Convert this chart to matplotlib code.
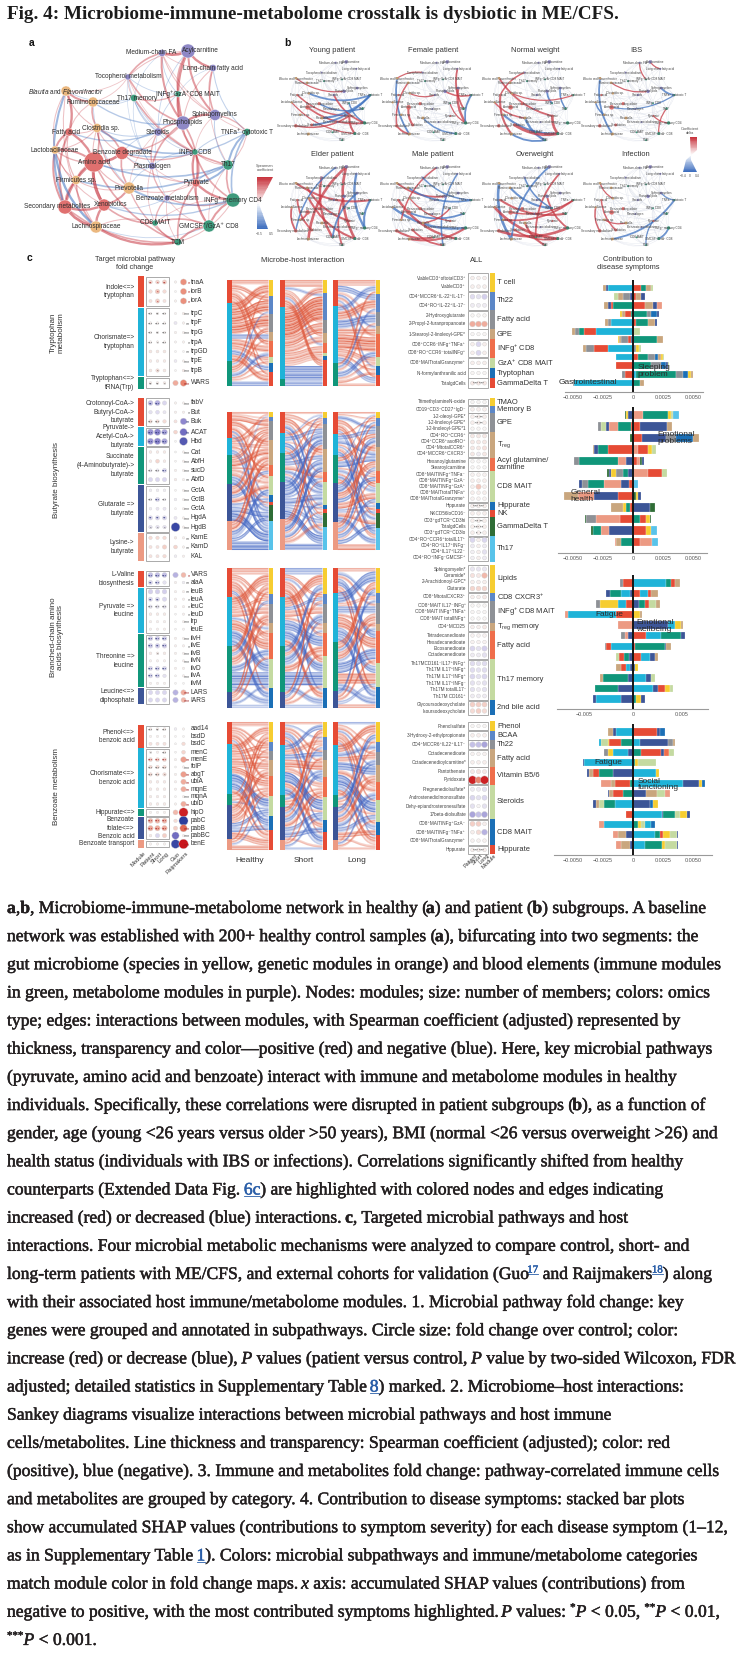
import re
import numpy as np
import matplotlib
matplotlib.use('Agg')
import matplotlib.pyplot as plt
import matplotlib.patheffects as pe
from matplotlib.path import Path
from matplotlib.patches import PathPatch, Rectangle, Polygon, FancyArrowPatch
from matplotlib.colors import LinearSegmentedColormap

plt.rcParams['font.family'] = ['Liberation Sans', 'DejaVu Sans']
plt.rcParams['mathtext.fontset'] = 'custom'
plt.rcParams['mathtext.rm'] = 'Liberation Sans'
plt.rcParams['mathtext.it'] = 'Liberation Sans:italic'
plt.rcParams['mathtext.bf'] = 'Liberation Sans:bold'

# ======================= DATA =======================
TITLE = "Fig. 4: Microbiome-immune-metabolome crosstalk is dysbiotic in ME/CFS."

NET_NODES = ['Medium-chain FA', 'Acylcarnitine', 'Long-chain fatty acid', 'Tocopherol metabolism',
             'INFg⁺GzA⁺CD8 MAIT', r'$\it{Blautia}$ and $\it{Flavonifractor}$', 'Ruminococcaceae',
             'Th17 memory', 'Sphingomyelins', 'Phospholipids', 'Fatty acid', 'Clostridia sp.', 'Steroids',
             'TNFa⁺ cytotoxic T', 'Lactobacillaceae', 'Benzoate degradate', 'INFg⁺ CD8', 'Amino acid',
             'Plasmalogen', 'Th17', 'Firmicutes sp.', 'Prevotella', 'Pyruvate', 'Benzoate metabolism',
             'INFg⁺ memory CD4', 'Secondary metabolites', 'Xenobiotics', 'CD8 MAIT', 'GMCSF⁺/GzA⁺ CD8',
             'Lachnospiraceae', 'TCM']
NET_TYPES = ['met', 'met', 'met', 'met', 'imm', 'sp', 'sp', 'imm', 'met', 'met', 'gen', 'sp', 'met', 'imm',
             'sp', 'gen', 'imm', 'gen', 'met', 'imm', 'sp', 'sp', 'gen', 'met', 'imm', 'gen', 'gen', 'imm',
             'imm', 'sp', 'imm']
NET_MEMBERS = [8, 22, 8, 6, 6, 14, 14, 8, 16, 22, 10, 12, 10, 8, 10, 20, 6, 34, 8, 14, 12, 18, 10, 6, 22,
               22, 18, 6, 18, 18, 8]
NET_EDGES = [
    (17, 26, .8), (17, 25, .6), (17, 15, .7), (17, 10, .6), (17, 20, .5), (17, 14, .5), (17, 11, .4),
    (10, 14, .5), (10, 5, .6), (10, 25, .5), (25, 29, .7), (26, 29, .6), (26, 21, .5), (20, 25, .5),
    (15, 21, .4), (15, 11, .4), (5, 6, .5), (6, 11, .4), (11, 21, .3), (20, 29, .4), (14, 25, .5),
    (22, 24, .6), (22, 16, .5), (22, 28, .5), (22, 9, .4), (15, 16, .3), (15, 9, .3), (17, 30, .4),
    (26, 27, .4), (29, 30, .6), (25, 30, .4), (21, 30, .3), (22, 30, .4), (14, 29, -.6), (5, 25, -.5),
    (11, 16, -.4), (20, 19, -.4), (21, 24, -.4), (10, 12, -.3), (6, 9, -.3), (17, 19, -.4), (26, 24, -.3),
    (15, 13, -.3), (22, 19, -.5), (13, 19, -.5), (13, 24, -.4), (0, 1, .7), (1, 2, .6), (0, 3, .4),
    (1, 9, .6), (1, 8, .5), (2, 8, .4), (8, 9, .6), (9, 12, .4), (9, 18, .4), (12, 18, .3), (3, 9, .4),
    (0, 9, .5), (1, 4, .4), (4, 16, .5), (16, 22, .5), (7, 4, .3), (7, 19, .4), (16, 24, .4), (19, 24, .4),
    (24, 28, .5), (28, 27, .4), (27, 30, .3), (28, 30, .5), (13, 8, .3), (23, 24, .3), (23, 27, .3),
    (18, 23, .3), (25, 26, .6),
    (0, 2, .15), (0, 4, -.15), (0, 8, .2), (1, 3, .2), (1, 12, -.15), (2, 9, .2), (2, 13, -.2), (3, 4, -.15),
    (3, 7, .15), (3, 12, -.15), (4, 9, .2), (4, 12, -.15), (5, 7, -.15), (5, 11, .2), (5, 3, .15),
    (6, 7, -.15), (6, 3, .15), (7, 12, -.2), (7, 16, -.15), (8, 16, .15), (8, 19, -.2), (9, 16, .2),
    (11, 12, -.2), (11, 15, .2), (12, 15, -.15), (12, 16, -.15), (14, 11, .2), (14, 20, .2), (15, 18, -.15),
    (15, 22, .2), (16, 18, -.15), (16, 19, .2), (18, 21, -.15), (18, 22, .15), (19, 22, -.2), (20, 21, .2),
    (21, 23, -.15), (21, 22, .2), (22, 23, .15), (23, 28, .15), (24, 27, .15), (26, 23, -.15), (27, 29, .2),
    (29, 28, -.15), (30, 24, .2), (10, 11, .2), (6, 10, .2), (13, 16, -.2), (17, 18, -.2), (17, 21, .25),
    (14, 17, .3), (5, 14, .2), (10, 20, .25), (0, 7, -.1), (2, 4, -.1), (12, 23, -.1), (3, 18, -.1),
    (19, 28, .15), (0, 13, .15), (2, 19, .15), (5, 29, .2), (14, 26, .2), (6, 21, -.15), (11, 26, .2),
    (3, 16, .12), (7, 18, -.12), (12, 21, .12), (18, 27, .15), (23, 30, .15), (16, 28, .2), (19, 13, .2)]

B_NAMES = ['Young patient', 'Female patient', 'Normal weight', 'IBS',
           'Elder patient', 'Male patient', 'Overweight', 'Infection']
B_DELTAS = [
    [(17, 24, .5), (10, 22, .4), (5, 9, .3), (11, 13, -.5), (21, 13, -.6), (14, 28, .3), (16, 24, -.4),
     (26, 13, -.5), (25, 22, .4), (12, 24, .5), (22, 28, .6), (15, 19, -.4)],
    [(5, 29, -.5), (6, 25, .4), (8, 24, .7), (2, 19, .5), (17, 26, .6), (25, 29, .5), (9, 13, .4),
     (3, 5, .3), (11, 12, .3), (21, 28, -.4), (16, 24, .3), (13, 24, -.5)],
    [(5, 22, .5), (10, 29, .6), (14, 21, .4), (20, 28, -.6), (21, 30, -.7), (26, 28, .9), (29, 30, -.5),
     (22, 28, .8), (9, 16, -.5), (3, 10, .4), (8, 19, -.4), (11, 13, .3)],
    [(5, 29, -.5), (14, 20, -.4), (1, 2, .3), (6, 9, .3), (8, 13, -.5), (19, 28, .3), (0, 4, .3),
     (22, 24, .3), (17, 13, -.3)],
    [(1, 29, .8), (1, 28, .8), (2, 24, -.7), (5, 13, .6), (3, 27, .7), (9, 30, .5), (14, 25, .5),
     (6, 22, .6), (10, 26, .5), (0, 25, -.4), (13, 24, -.6), (11, 28, .6), (20, 17, .5), (8, 27, -.5)],
    [(14, 24, -.7), (10, 28, .7), (25, 27, .6), (5, 9, .5), (6, 13, -.5), (2, 30, -.4), (29, 24, .6),
     (17, 19, -.5), (21, 16, .4), (0, 20, .4), (11, 22, .3), (3, 13, -.4), (26, 30, .5)],
    [(5, 29, -.8), (14, 28, .8), (25, 24, .8), (10, 19, .6), (6, 16, -.6), (1, 29, -.5), (2, 27, .5),
     (20, 13, .5), (9, 24, .5), (21, 30, .6), (3, 16, -.4), (17, 13, .4), (26, 28, .5)],
    [(14, 25, .4), (10, 26, .4), (29, 13, -.5), (5, 11, .3), (28, 24, -.5), (20, 21, .3), (22, 30, -.3),
     (8, 13, -.3)]]

# ---- panel c: microbial genes: (gene, (Patient, Short, Long, Guo, Raijmakers), (stars P, S, L, Raij))
TRP_SUB = [('Indole<=>\ntryptophan', 3), ('Chorismate=>\ntryptophan', 7), ('Tryptophan<=>\ntRNA(Trp)', 1)]
TRP_GENES = [
    ('tnaA', (0.25, 0.25, 0.3, 0.05, 0.55), (2, 1, 2, 1)),
    ('iorB', (0.2, 0.35, 0.2, 0.0, 0.55), (0, 1, 0, 1)),
    ('iorA', (0.15, 0.3, 0.15, 0.05, 0.55), (0, 1, 0, 1)),
    ('trpC', (0.06, 0.06, 0.06, 0.03, 0.08), (3, 2, 3, 3)),
    ('trpF', (0.06, 0.06, 0.06, -0.15, 0.06), (3, 3, 3, 2)),
    ('trpG', (0.06, 0.06, 0.06, 0.05, 0.05), (3, 2, 3, 3)),
    ('trpA', (0.06, 0.06, 0.06, 0.03, 0.05), (3, 1, 3, 1)),
    ('trpGD', (0.12, 0.12, 0.12, 0.0, 0.0), (0, 0, 0, 2)),
    ('trpE', (0.1, 0.1, 0.1, -0.12, 0.05), (0, 0, 0, 3)),
    ('trpB', (0.12, 0.2, 0.12, 0.0, 0.1), (0, 1, 0, 3)),
    ('WARS', (0.1, 0.1, 0.1, 0.45, 0.6), (2, 2, 1, 3))]
BUT_SUB = [('Crotonoyl-CoA->\nButyryl-CoA->\nbutyrate', 3), ('Pyruvate->\nAcetyl-CoA->\nbutyrate', 2),
           ('Succinate\n(4-Aminobutyrate)->\nbutyrate', 4), ('Glutarate =>\nbutyrate', 5), ('Lysine->\nbutyrate', 3)]
BUT_GENES = [
    ('fabV', (-0.4, -0.45, -0.3, 0.05, 0.05), (2, 3, 0, 3)),
    ('But', (-0.2, -0.25, -0.15, 0.05, 0.05), (0, 0, 0, 1)),
    ('Buk', (0.2, 0.2, 0.2, 0.15, -0.6), (3, 3, 0, 2)),
    ('ACAT', (-0.55, -0.6, -0.5, 0.25, -0.7), (3, 3, 3, 2)),
    ('Hbd', (-0.55, -0.6, -0.5, 0.0, -0.8), (3, 3, 3, 0)),
    ('Cat', (0.1, 0.1, 0.1, 0.0, 0.05), (0, 0, 0, 3)),
    ('AbfH', (0.1, 0.25, 0.1, 0.0, 0.05), (0, 0, 0, 3)),
    ('sucD', (-0.15, -0.15, -0.3, 0.05, 0.05), (3, 3, 3, 3)),
    ('AbfD', (-0.3, -0.3, -0.3, 0.08, 0.05), (0, 0, 0, 2)),
    ('GctA', (-0.1, -0.1, -0.1, 0.0, 0.05), (0, 0, 0, 3)),
    ('GctB', (-0.1, -0.3, -0.1, -0.1, 0.05), (3, 3, 3, 3)),
    ('GctA', (-0.1, -0.15, -0.15, 0.0, 0.05), (0, 0, 0, 3)),
    ('HgdA', (-0.3, -0.3, -0.3, -0.15, 0.05), (2, 2, 2, 3)),
    ('HgdB', (-0.2, -0.2, -0.2, -0.9, 0.05), (1, 1, 1, 3)),
    ('KamE', (0.2, 0.2, 0.2, 0.08, 0.05), (0, 0, 0, 2)),
    ('KamD', (0.15, 0.15, 0.3, 0.25, 0.05), (0, 0, 0, 2)),
    ('KAL', (0.15, 0.15, 0.2, -0.1, 0.05), (0, 0, 0, 0))]
BCA_SUB = [('L-Valine\nbiosynthesis', 2), ('Pyruvate =>\nleucine', 6), ('Threonine =>\nleucine', 7),
           ('Leucine<=>\ndiphosphate', 2)]
BCA_GENES = [
    ('VARS', (-0.4, -0.4, -0.4, -0.45, 0.4), (3, 3, 3, 1)),
    ('alaA', (-0.3, -0.3, -0.2, 0.05, -0.1), (2, 3, 0, 2)),
    ('leuB', (-0.35, -0.35, -0.35, 0.05, 0.05), (0, 0, 0, 2)),
    ('leuA', (-0.3, -0.3, -0.3, 0.05, 0.05), (2, 2, 0, 1)),
    ('leuC', (-0.2, -0.2, -0.2, 0.05, 0.05), (3, 3, 3, 1)),
    ('leuD', (0.1, 0.1, 0.1, 0.0, 0.05), (0, 0, 0, 1)),
    ('lrp', (0.06, 0.06, 0.06, 0.0, 0.05), (0, 0, 0, 3)),
    ('leuE', (0.05, 0.05, 0.05, 0.0, 0.03), (0, 0, 0, 0)),
    ('ilvH', (-0.35, -0.35, -0.35, 0.05, 0.05), (3, 3, 3, 3)),
    ('ilvE', (-0.35, -0.35, -0.35, 0.05, 0.05), (3, 2, 3, 1)),
    ('ilvB', (0.1, 0.1, 0.1, 0.05, 0.05), (0, 1, 0, 3)),
    ('ilvN', (0.05, 0.05, 0.05, 0.0, 0.05), (0, 0, 0, 3)),
    ('ilvD', (-0.3, -0.3, -0.3, 0.05, 0.05), (3, 3, 3, 0)),
    ('ilvA', (-0.3, -0.3, -0.2, 0.0, 0.05), (3, 3, 0, 3)),
    ('ilvM', (0.05, 0.05, 0.05, 0.0, 0.0), (0, 0, 0, 0)),
    ('LARS', (-0.3, -0.3, -0.3, -0.45, 0.45), (0, 0, 0, 3)),
    ('IARS', (-0.3, -0.3, -0.3, -0.45, 0.4), (0, 0, 0, 3))]
BEN_SUB = [('Phenol<=>\nbenzoic acid', 3), ('Chorismate<=>\nbenzoic acid', 8), ('Hippurate<=>', 1),
           ('Benzoate\nfolate<=>\nBenzoic acid', 3), ('Benzoate transport', 1)]
BEN_GENES = [
    ('aad14', (0.1, 0.1, 0.1, -0.1, 0.05), (3, 2, 3, 0)),
    ('bsdD', (0.05, 0.05, 0.05, 0.0, 0.0), (0, 0, 0, 0)),
    ('bsdC', (0.15, 0.15, 0.15, 0.0, 0.2), (0, 0, 0, 0)),
    ('menC', (0.05, 0.05, 0.1, 0.0, 0.25), (1, 0, 3, 0)),
    ('menE', (0.25, 0.25, 0.25, 0.05, 0.5), (3, 3, 3, 2)),
    ('folP', (0.2, 0.2, 0.2, 0.0, 0.05), (3, 3, 3, 3)),
    ('abgT', (0.2, 0.2, 0.2, 0.05, 0.5), (3, 3, 1, 2)),
    ('ubiA', (0.1, 0.1, 0.1, 0.05, 0.45), (0, 0, 0, 2)),
    ('mqnE', (0.1, 0.1, 0.1, 0.05, 0.45), (0, 0, 0, 2)),
    ('mqnA', (0.08, 0.08, 0.08, 0.0, 0.05), (0, 0, 0, 3)),
    ('ubiD', (0.1, 0.1, 0.1, 0.05, 0.45), (0, 0, 0, 2)),
    ('hipO', (0.05, 0.05, 0.05, 0.4, 0.95), (0, 0, 0, 0)),
    ('pabC', (0.4, 0.4, 0.4, 0.2, -0.95), (3, 3, 3, 0)),
    ('pabB', (0.45, 0.45, 0.45, 0.3, 0.7), (3, 3, 3, 3)),
    ('pabBC', (0.1, -0.3, 0.3, -0.7, 0.05), (0, 0, 0, 3)),
    ('benE', (0.05, 0.05, 0.05, -0.9, 1.0), (0, 0, 0, 3))]

# ---- host modules: (label, category index, (Patient, Short, Long), stars)
TRP_CATS = ['T cell', 'Th22', 'Fatty acid', 'GPE', 'INFg$^{+}$ CD8', 'GzA$^{+}$ CD8 MAIT', 'Tryptophan',
            'GammaDelta T']
TRP_HOST = [
    ('ViableCD3⁺oftotalCD3⁺', 0, (0.05, 0.05, 0.05), ''), ('ViableCD3⁺', 0, (0.05, 0.05, 0.05), ''),
    ('CD4⁺MCCR6⁺IL-22⁺IL-17⁻', 1, (-0.25, -0.2, -0.35), ''), ('CD4⁺RO⁺IL-22⁺IL-17⁻', 1, (-0.1, -0.1, -0.1), ''),
    ('2-Hydroxyglutarate', 2, (0.0, 0.0, 0.0), ''), ('2-Propyl-2-furanpropanoate', 2, (0.45, 0.45, 0.45), ''),
    ('1-Stearoyl-2-linoleoyl-GPE*', 3, (0.0, 0.0, 0.0), ''),
    ('CD8⁺CCR6⁻INFg⁺TNFa⁺', 4, (0.05, -0.3, 0.05), ''), ('CD8⁺RO⁺CCR6⁻totalINFg⁺', 4, (0.05, -0.3, 0.05), ''),
    ('CD8⁺MAITtotalGranzyme⁺', 5, (0.05, 0.05, 0.05), ''), ('N-formylanthranilic acid', 6, (0.0, 0.0, 0.0), ''),
    ('TotalgdCells', 7, (0.1, 0.1, 0.1), '*** ***')]
BUT_CATS = ['TMAO', 'Memory B', 'GPE', 'T$_{\\rm reg}$', 'Acyl glutamine/\ncarnitine', 'CD8 MAIT', 'Hippurate',
            'NK', 'GammaDelta T', 'Th17']
BUT_HOST = [
    ('TrimethylamineN-oxide', 0, (0.0, 0.0, 0.0), ''), ('CD19⁺CD3⁻CD27⁺IgD⁻', 1, (0.05, 0.05, 0.05), ''),
    ('1-2-oleoyl-GPE*', 2, (0.05, 0.05, 0.05), '** **'), ('1-2-linoleoyl-GPE*', 2, (0.05, 0.05, 0.05), '** **'),
    ('1-2-linoleoyl-GPE*1', 2, (0.0, 0.0, 0.0), ''),
    ('CD4⁺RO⁺CCR6⁺', 3, (0.1, 0.1, 0.1), ''), ('CD4⁺CCR6⁺asofRO⁺', 3, (0.1, 0.1, 0.1), ''),
    ('CD4⁺MtotalCCR6⁺', 3, (0.1, 0.1, 0.15), ''), ('CD4⁺MCCR6⁺CXCR3⁺', 3, (0.1, -0.1, 0.1), ''),
    ('Hexanoylglutamine', 4, (0.0, 0.0, 0.0), ''), ('Stearoylcarnitine', 4, (0.0, 0.0, 0.0), ''),
    ('CD8⁺MAITINFg⁺TNFa⁻', 5, (0.03, 0.03, 0.03), ''), ('CD8⁺MAITINFg⁺GzA⁻', 5, (0.05, 0.05, 0.05), ''),
    ('CD8⁺MAITINFg⁺GzA⁺', 5, (0.05, 0.35, 0.05), ''), ('CD8⁺MAITtotalTNFa⁺', 5, (0.05, 0.05, 0.05), ''),
    ('CD8⁺MAITtotalGranzyme⁺', 5, (0.03, 0.03, 0.03), ''), ('Hippurate', 6, (0.05, 0.05, 0.05), '*** ***'),
    ('NKCD56loCD16⁻', 7, (0.05, 0.05, 0.05), ''),
    ('CD3⁺gdTCR⁺CD3hi', 8, (0.05, 0.05, 0.05), '** **'), ('TotalgdCells', 8, (0.05, 0.05, 0.05), '*** **'),
    ('CD3⁺gdTCR⁺CD3lo', 8, (0.05, 0.05, 0.05), '*  *'),
    ('CD4⁺RO⁺CCR6⁺totalIL17⁺', 9, (-0.3, 0.05, -0.3), ''), ('CD4⁺RO⁺IL17⁺INFg⁻', 9, (-0.1, 0.05, -0.1), ''),
    ('CD4⁺IL17⁺IL22⁻', 9, (-0.05, 0.05, -0.2), ''), ('CD4⁺RO⁺INFg⁻GMCSF⁺', 9, (-0.05, 0.05, -0.1), '')]
BCA_CATS = ['Lipids', 'CD8 CXCR3$^{+}$', 'INFg$^{+}$ CD8 MAIT', 'T$_{\\rm reg}$ memory', 'Fatty acid',
            'Th17 memory', '2nd bile acid']
BCA_HOST = [
    ('Sphingomyelin*', 0, (-0.15, -0.15, -0.15), ''), ('Ceramide*', 0, (0.15, 0.1, 0.4), ''),
    ('2-Arachidonoyl-GPC*', 0, (0.05, 0.05, 0.05), ''), ('Glutarate', 0, (0.25, 0.25, 0.25), ''),
    ('CD8⁺MtotalCXCR3⁺', 1, (0.05, 0.05, 0.1), ''),
    ('CD8⁺MAIT IL17⁻INFg⁺', 2, (0.0, 0.0, 0.0), ''), ('CD8⁺MAIT INFg⁺TNFa⁺', 2, (0.0, 0.0, 0.0), ''),
    ('CD8⁺MAIT totalINFg⁺', 2, (0.0, 0.0, 0.0), ''), ('CD4⁺MCD25', 3, (0.05, 0.05, 0.1), ''),
    ('Tetradecanedioate', 4, (0.03, 0.03, 0.03), ''), ('Hexadecanedioate', 4, (0.03, 0.03, 0.03), ''),
    ('Eicosanedioate', 4, (-0.3, -0.2, -0.35), ''), ('Octadecenedioate', 4, (-0.1, -0.1, -0.2), ''),
    ('Th17MCD161⁻IL17⁺INFg⁺', 5, (-0.25, -0.2, -0.25), ''), ('Th17M IL17⁺INFg⁺', 5, (-0.25, -0.2, -0.25), ''),
    ('Th17M IL17⁺INFg⁺', 5, (-0.3, -0.2, -0.3), ''), ('Th17M IL17⁺INFg⁻', 5, (-0.2, -0.1, -0.2), ''),
    ('Th17M totalIL17⁻', 5, (-0.2, -0.1, -0.2), ''), ('Th17M CD161⁺', 5, (-0.1, -0.1, -0.1), ''),
    ('Glycoursodeoxycholate', 6, (0.3, 0.3, 0.3), ''), ('Isoursodeoxycholate', 6, (0.2, 0.3, 0.2), '')]
BEN_CATS = ['Phenol', 'BCAA', 'Th22', 'Fatty acid', 'Vitamin B5/6', 'Steroids', 'CD8 MAIT', 'Hippurate']
BEN_HOST = [
    ('Phenolsulfate', 0, (0.0, 0.0, 0.0), ''), ('3-Hydroxy-2-ethylpropionate', 1, (0.05, 0.05, 0.05), ''),
    ('CD4⁺MCCR6⁺IL22⁺IL17⁻', 2, (-0.4, -0.4, -0.5), ''),
    ('Octadecenedioate', 3, (0.03, 0.03, 0.03), ''), ('Octadecenedioylcarnitine*', 3, (0.05, 0.05, 0.05), ''),
    ('Pantothenate', 4, (0.1, 0.15, 0.1), ''), ('Pyridoxate', 4, (0.95, 0.6, 0.95), ''),
    ('Pregnenediolsulfate*', 5, (-0.1, -0.1, -0.2), ''), ('Androstenediolmonosulfate', 5, (-0.3, -0.2, -0.3), ''),
    ('Dehy-epiandrosteronesulfate', 5, (-0.2, 0.0, -0.2), ''), ('17beta-diolsulfate', 5, (-0.5, -0.4, -0.5), ''),
    ('CD8⁺MAITINFg⁺GzA⁻', 6, (0.3, 0.3, 0.05), ''), ('CD8⁺MAITINFg⁻TNFa⁺', 6, (0.05, 0.2, -0.45), ''),
    ('CD8⁺MAITtotalGranzyme⁺', 6, (0.03, 0.03, 0.03), ''), ('Hippurate', 7, (0.05, 0.05, 0.05), '*** ***')]

# ---- Sankey link weights (rows: microbial subpathways, cols: host categories), sign = direction
SK_TRP = {'Healthy': [[2, 2, 1, 1, 2, 0, 1, 1], [4, 5, 5, -2, 3, 2, -2, 3], [1, -1, 2, 1, -2, 1, 1, -2]],
          'Short': [[2, -1, 1, 1, -1, 0, 0, 2], [2, 7, 3, 2, 2, 1, 1, -4], [0, 0, 0, 0, 0, 0, 0, -2]],
          'Long': [[2, -2, 1, -1, 1, 0, -1, 1], [-2, 3, -3, 2, 5, 2, 1, -2], [1, -1, 1, 0, -2, 1, 1, 1]]}
SK_BUT = {'Healthy': [[1, 1, 3, 3, 1, 2, -1, 0, 1, -2], [0, 1, 2, 2, 1, 1, 0, 0, -1, -2],
                      [1, 0, 2, 4, 1, 2, 1, 1, -2, -3], [-1, 0, 2, 3, -2, 3, -1, -1, -3, -5],
                      [0, 0, 2, 3, 1, -3, -1, 0, -2, -5]],
          'Short': [[1, 0, 2, 2, 1, -2, 0, 0, 1, -1], [-1, 1, -2, 1, 0, -2, 1, 0, -1, 1],
                    [0, 1, -3, -2, 2, -2, 0, 1, -1, -2], [-1, 0, -3, -3, -1, -3, -1, 0, -2, -4],
                    [0, 1, 2, -3, 1, -2, 0, 1, 2, -3]],
          'Long': [[1, 1, -2, 2, 1, 2, 0, 0, -1, -1], [0, 1, -2, -2, 1, -1, 1, 0, 1, -2],
                   [-1, 0, 2, -3, 1, -2, 0, 1, -2, 2], [1, -1, -3, 3, -2, 3, -1, -1, 2, -3],
                   [0, 1, 2, -2, 1, -2, 1, 0, -2, 3]]}
SK_BCA = {'Healthy': [[2, 1, 1, 1, 2, -1, 1], [3, 1, 2, -1, 3, -3, -2], [2, -1, 2, 1, -2, -4, -2], [1, 0, 1, 0, 1, -1, -1]],
          'Short': [[-2, 1, -1, 1, 1, 2, -1], [3, -1, 2, 1, -3, -3, 2], [-2, 1, -2, -1, 2, -4, -2], [1, 0, -1, 0, 1, 1, -1]],
          'Long': [[1, -1, 1, 0, -2, 1, 1], [-3, 1, -2, 1, 3, -2, -2], [2, -1, 2, -1, -3, 3, -2], [-1, 0, 1, 0, 1, -1, 1]]}
SK_BEN = {'Healthy': [[2, 1, 1, 1, 2, 1, -1, 1], [3, 2, 2, 3, 3, -4, -3, 2], [1, 0, 0, 1, 1, -1, 0, 1],
                      [2, 1, 1, 2, 2, -2, -2, 3], [1, 0, 0, 0, 1, -1, 0, 2]],
          'Short': [[1, -1, 1, 1, -2, 1, -1, 1], [-2, 2, -2, 3, 2, -4, 2, -3], [0, 1, 0, -1, 1, 1, 0, -1],
                    [2, -1, 1, -2, 2, -2, -2, 1], [1, 0, 0, 0, 1, -1, 0, -1]],
          'Long': [[-1, 1, 1, -1, 2, 1, 1, -1], [3, -2, 2, -3, 2, -4, -2, 2], [1, 0, -1, 1, 0, 1, 0, 1],
                   [-2, 1, -1, 2, -2, -2, 2, 1], [1, 0, 0, 0, -1, 1, 0, 1]]}

# ---- SHAP contributions (x 1e-4) per symptom bar: segments from 0 outward
TRP_NEG = [[('cyan', 21), ('navy', 1.4), ('tan', 2.2)], [('navy', 2.2), ('gray', 6.2), ('tan', 4.2), ('lgreen', 3.4)],
           [('green', 16.8), ('red', 1.4), ('navy', 2.8), ('tan', 2.8)], [('green', 1.4), ('red', 5.6), ('tan', 2.2), ('yellow', 1.4)],
           [('cyan', 18.2), ('gray', 2.8), ('tan', 2.0)], [('cyan', 30.8), ('red', 9.8), ('green', 4.2), ('gray', 3.4), ('tan', 2.8)],
           [('navy', 1.4), ('red', 2.8), ('gray', 5.6), ('tan', 2.2), ('yellow', 0.8)], [('cyan', 21), ('red', 11.2), ('gray', 7), ('tan', 2.8)],
           [('cyan', 14)], [('red', 14)], [('red', 7), ('gray', 2.2)], [('cyan', 49), ('gray', 1.4)]]
TRP_POS = [[('red', 7), ('green', 4.2), ('tan', 4.2), ('lgreen', 1.4)], [('red', 2.8), ('tan', 4.2), ('navy', 2.8)],
           [('red', 10), ('tan', 7), ('navy', 3), ('salmon', 4)], [('green', 12), ('gray', 3), ('blue', 5), ('navy', 1.5)],
           [('red', 2.8), ('green', 9.8), ('tan', 5.6), ('navy', 1.4)], [('lgreen', 5.6)],
           [('green', 19.6), ('tan', 5)], [('gray', 2.2), ('yellow', 2.8), ('lgreen', 1.4)],
           [('red', 4.2), ('green', 8.4), ('gray', 5.6), ('blue', 2.8), ('tan', 2.2), ('yellow', 1.4), ('lgreen', 1.4)],
           [('green', 15), ('gray', 8.4), ('blue', 4.2), ('navy', 1.4), ('lgreen', 1.4)],
           [('cyan', 2.8), ('green', 33), ('gray', 5.6), ('blue', 4.2), ('yellow', 2.8), ('tan', 1.4)],
           [('green', 5.6), ('tan', 3.4)]]
BUT_NEG = [[('navy', 4.2), ('yellow', 1.4), ('dgreen', 1.4)],
           [('red', 1.4), ('green', 11.2), ('salmon', 7), ('navy', 2.8), ('lgreen', 4.2), ('gray', 2.8)],
           [('dgreen', 2.2)], [('red', 21), ('green', 8.4), ('navy', 2.8), ('tan', 1.4)],
           [('navy', 5.6), ('salmon', 7), ('green', 32.2), ('gray', 4.2)],
           [('navy', 4), ('green', 4), ('gray', 6), ('yellow', 4), ('navy', 2.4), ('dgreen', 1.4)],
           [('red', 3.4), ('navy', 6.4), ('salmon', 14), ('green', 14), ('gray', 4.8), ('navy', 2.8)],
           [('red', 12.6), ('navy', 19.6), ('salmon', 14), ('tan', 11.2)],
           [('red', 2.8), ('green', 2.8), ('yellow', 2.8), ('tan', 9.6)],
           [('red', 11.2), ('salmon', 19.4), ('gray', 8.4), ('dgreen', 1.4)],
           [('navy', 19.6), ('salmon', 7), ('green', 7), ('dgreen', 1.4)], [('green', 9.8), ('tan', 4.2), ('salmon', 1.4)]]
BUT_POS = [[('salmon', 8.4), ('green', 21), ('yellow', 2.2), ('lgreen', 1.4), ('lblue', 5.6)],
           [('red', 5.6), ('navy', 22.4), ('tan', 4.2)],
           [('red', 7.6), ('navy', 19.6), ('gray', 8.4), ('blue', 14), ('tan', 5.6)],
           [('salmon', 4.2), ('red', 8.4), ('yellow', 3.4), ('lgreen', 2.8)],
           [('red', 3.4), ('salmon', 2.2), ('dgreen', 2.2), ('navy', 1.4)], [('salmon', 12.6), ('red', 11.2), ('lgreen', 4.2)],
           [('lblue', 4.2)], [('dgreen', 2.8), ('yellow', 1.4), ('navy', 2.8)], [('navy', 14), ('dgreen', 4.2)],
           [('green', 5.6), ('red', 5.6), ('yellow', 2.8), ('dgreen', 1.4)], [('red', 11.2), ('yellow', 4.2), ('lblue', 4.2)],
           [('red', 5.6), ('salmon', 10), ('lblue', 5.6)]]
BCA_NEG = [[('red', 10.3), ('gray', 3.4)], [('navy', 3.4), ('cyan', 8.6), ('green', 12), ('navy', 3.4)],
           [('red', 6.8), ('cyan', 8.6), ('yellow', 18.8), ('gray', 3.4)], [('red', 17.1), ('cyan', 49.6), ('salmon', 3.4)],
           [('salmon', 15.4)], [('navy', 5.1), ('salmon', 3.4), ('gray', 3.4)], [('cyan', 22.2), ('red', 5.1), ('gray', 1.7)],
           [('navy', 4.1), ('green', 5.1), ('red', 5.1), ('lgreen', 3.4)], [('navy', 3.4), ('cyan', 3.4), ('red', 5.1), ('tan', 5.1)],
           [('navy', 5.1), ('green', 25.7), ('tan', 3.4)], [('navy', 15.4), ('green', 23.9)],
           [('navy', 12), ('cyan', 25.7), ('navy', 3.4)]]
BCA_POS = [[('cyan', 34.2), ('green', 5.1), ('red', 3.4), ('tan', 5.1)], [('red', 6.8), ('cyan', 8.6), ('red', 3.4), ('tan', 6.8)],
           [('navy', 6), ('green', 6), ('red', 4), ('lgreen', 8), ('tan', 4)], [('yellow', 7.5), ('tan', 2)],
           [('navy', 35.9), ('cyan', 6.8), ('yellow', 6.8), ('tan', 1.7)], [('red', 13.7), ('cyan', 15.4), ('green', 20.5), ('navy', 3.4)],
           [('red', 1.7), ('green', 30.8), ('navy', 1.7), ('tan', 5.1)], [('red', 8.6), ('cyan', 8.6), ('navy', 5.1), ('tan', 3.4)],
           [('navy', 1.7), ('yellow', 3.4)], [('cyan', 13.7), ('navy', 5.1), ('lgreen', 3.4)],
           [('cyan', 20.5), ('navy', 5.1), ('red', 6.8), ('yellow', 5.1), ('lgreen', 3.4)], [('green', 3.4), ('yellow', 5.1), ('navy', 3.4)]]
BEN_NEG = [[('cyan', 14), ('navy', 2.8), ('tan', 4.2)], [('green', 9.8), ('red', 9.8), ('yellow', 1.4), ('lgreen', 5.6), ('cyan', 1.4)],
           [('navy', 4.2), ('cyan', 12.6), ('yellow', 4.2), ('gray', 2.8)], [('cyan', 40.6), ('navy', 1.4)],
           [('navy', 16.8), ('green', 11.2), ('red', 5.6), ('tan', 3.4), ('navy', 1.4)],
           [('green', 2.8), ('red', 12.6), ('tan', 2.8), ('salmon', 8.4)], [('green', 8.4), ('red', 8.4), ('tan', 2.8), ('navy', 1.4)],
           [('cyan', 15.4), ('green', 8.4), ('lgreen', 4.2), ('tan', 2.8), ('navy', 2.8)], [('red', 6)],
           [('cyan', 23.8), ('salmon', 4.2)], [('navy', 5.6), ('tan', 7), ('salmon', 4.2)], [('navy', 2.8), ('tan', 7), ('salmon', 4.2)]]
BEN_POS = [[('red', 19.6), ('navy', 2.8), ('blue', 4.2)], [('cyan', 5.6), ('navy', 23.8), ('gray', 4.2), ('tan', 1.4)],
           [('green', 7), ('red', 16), ('navy', 2.8), ('orange', 4.2), ('lgreen', 4.2)], [('green', 1.4), ('yellow', 2.8), ('lgreen', 14.6)],
           [('cyan', 18.8), ('yellow', 2.8)], [('cyan', 42), ('navy', 12.6), ('yellow', 2.8), ('blue', 2.8)],
           [('navy', 11.2), ('tan', 8.4), ('lgreen', 7), ('salmon', 4.2)], [('navy', 14), ('blue', 2.8), ('yellow', 4.2)],
           [('cyan', 23.8), ('navy', 1.4), ('green', 9.8), ('lgreen', 4.2), ('yellow', 5.6), ('navy', 2.8)],
           [('green', 4.2), ('yellow', 2.8), ('lgreen', 2.8), ('cyan', 5.6), ('blue', 2.8)],
           [('cyan', 18.2), ('green', 4.2), ('red', 2.8), ('yellow', 5.6), ('lgreen', 5.6), ('navy', 1.4)],
           [('cyan', 9.8), ('green', 14), ('yellow', 2.8), ('lgreen', 9.8), ('navy', 1.4)]]

CAPTION = [
    "B{a},B{b}, Microbiome-immune-metabolome network in healthy (B{a}) and patient (B{b}) subgroups. A baseline",
    "network was established with 200+ healthy control samples (B{a}), bifurcating into two segments: the",
    "gut microbiome (species in yellow, genetic modules in orange) and blood elements (immune modules",
    "in green, metabolome modules in purple). Nodes: modules; size: number of members; colors: omics",
    "type; edges: interactions between modules, with Spearman coefficient (adjusted) represented by",
    "thickness, transparency and color—positive (red) and negative (blue). Here, key microbial pathways",
    "(pyruvate, amino acid and benzoate) interact with immune and metabolome modules in healthy",
    "individuals. Specifically, these correlations were disrupted in patient subgroups (B{b}), as a function of",
    "gender, age (young <26 years versus older >50 years), BMI (normal <26 versus overweight >26) and",
    "health status (individuals with IBS or infections). Correlations significantly shifted from healthy",
    "counterparts (Extended Data Fig. L{6c}) are highlighted with colored nodes and edges indicating",
    "increased (red) or decreased (blue) interactions. B{c}, Targeted microbial pathways and host",
    "interactions. Four microbial metabolic mechanisms were analyzed to compare control, short- and",
    "long-term patients with ME/CFS, and external cohorts for validation (GuoLS{17} and RaijmakersLS{18}) along",
    "with their associated host immune/metabolome modules. 1. Microbial pathway fold change: key",
    "genes were grouped and annotated in subpathways. Circle size: fold change over control; color:",
    "increase (red) or decrease (blue), I{P} values (patient versus control, I{P} value by two-sided Wilcoxon, FDR",
    "adjusted; detailed statistics in Supplementary Table L{8}) marked. 2. Microbiome–host interactions:",
    "Sankey diagrams visualize interactions between microbial pathways and host immune",
    "cells/metabolites. Line thickness and transparency: Spearman coefficient (adjusted); color: red",
    "(positive), blue (negative). 3. Immune and metabolites fold change: pathway-correlated immune cells",
    "and metabolites are grouped by category. 4. Contribution to disease symptoms: stacked bar plots",
    "show accumulated SHAP values (contributions to symptom severity) for each disease symptom (1–12,",
    "as in Supplementary Table L{1}). Colors: microbial subpathways and immune/metabolome categories",
    "match module color in fold change maps. I{x} axis: accumulated SHAP values (contributions) from",
    "negative to positive, with the most contributed symptoms highlighted. I{P} values: S{*}I{P} < 0.05, S{**}I{P} < 0.01,",
    "S{***}I{P} < 0.001."]

# ======================= STYLE / LAYOUT =======================
PAL = {'red': '#e64b35', 'cyan': '#1fb3d8', 'green': '#10967a', 'navy': '#3c5597', 'salmon': '#ec9a83',
       'yellow': '#f6cd31', 'steel': '#5c87c7', 'gray': '#8e9196', 'tan': '#c9a67e', 'orange': '#ef6e4b',
       'lgreen': '#c4daa1', 'blue': '#1b6fb6', 'dgreen': '#2f6d36', 'lblue': '#58c3ea'}
MIC_KEYS = ['red', 'cyan', 'green', 'navy', 'salmon']
HOST_KEYS = ['yellow', 'steel', 'gray', 'tan', 'orange', 'lgreen', 'blue', 'red', 'dgreen', 'lblue']
TYPE_COL = {'met': '#8e88c6', 'imm': '#3e9a7c', 'sp': '#ebb87f', 'gen': '#e0706f'}
NET_POS = {0: (162, 53), 1: (188, 51), 2: (213, 68), 3: (128, 77), 4: (178, 94), 5: (66, 91), 6: (93, 102),
           7: (134, 98), 8: (215, 115), 9: (183, 123), 10: (69, 132), 11: (97, 128), 12: (158, 132),
           13: (247, 132), 14: (55, 150), 15: (122, 153), 16: (195, 152), 17: (94, 162), 18: (152, 166),
           19: (228, 165), 20: (76, 180), 21: (129, 188), 22: (196, 183), 23: (167, 198), 24: (233, 200),
           25: (65, 207), 26: (104, 205), 27: (155, 223), 28: (209, 226), 29: (96, 227), 30: (178, 242)}
LABEL_DX = {0: -11, 1: 12, 7: 3, 4: 10, 25: -8, 26: 7, 10: -3, 11: 4}
EDGE_RED, EDGE_BLUE = '#c83a45', '#3f72c0'
SK_POS, SK_NEG = '#df5a3e', '#4568c4'
SK_ALPHA = [0.55, 0.3, 0.45, 0.22, 0.38, 0.6, 0.26]
FC_CMAP = LinearSegmentedColormap.from_list('fc', ['#1f3596', '#7b74c6', '#d8d4ee', '#f7f4f4', '#f4cbc1',
                                                   '#e5725a', '#c9141b'])
GRAD = LinearSegmentedColormap.from_list('gr', ['#3f6fbf', '#ffffff', '#c8363f'])

W, H = 738, 1662
fig = plt.figure(figsize=(W / 100, H / 100), dpi=100)
cv = fig.add_axes([0, 0, 1, 1])
cv.set_xlim(0, W)
cv.set_ylim(H, 0)
cv.axis('off')
R = fig.canvas.get_renderer()
TXT = '#333333'


def px_axes(x0, y0, x1, y1):
    return fig.add_axes([x0 / W, 1 - y1 / H, (x1 - x0) / W, (y1 - y0) / H])


def text_w(s, **kw):
    t1 = cv.text(0, 0, '|' + s + '|', **kw)
    t2 = cv.text(0, 0, '||', **kw)
    w = t1.get_window_extent(R).width - t2.get_window_extent(R).width
    t1.remove()
    t2.remove()
    return w


# ----------------------- title -----------------------
tt = cv.text(7, 19, TITLE, family='Liberation Serif', weight='bold', fontsize=12, va='baseline',
             ha='left', color='#1c1c1c')
tt.set_fontsize(12 * 611 / tt.get_window_extent(R).width)

# ----------------------- panel a -----------------------
def net_xy(i, cx, cy, sc):
    x, y = NET_POS[i]
    return cx + (x - 151) * sc, cy + (y - 146.5) * sc


cv.text(29, 43, 'a', fontsize=7.5, weight='bold', va='center', color='#111')
for i, j, r in sorted(NET_EDGES, key=lambda e: abs(e[2])):
    cv.add_patch(FancyArrowPatch(net_xy(i, 151, 146.5, 1), net_xy(j, 151, 146.5, 1), arrowstyle='-',
                                 connectionstyle='arc3,rad=0.2', lw=0.25 + 2.4 * abs(r),
                                 color=EDGE_RED if r > 0 else EDGE_BLUE, alpha=0.2 + 0.6 * abs(r),
                                 shrinkA=0, shrinkB=0, zorder=2))
xs = [net_xy(i, 151, 146.5, 1)[0] for i in range(len(NET_NODES))]
ys = [net_xy(i, 151, 146.5, 1)[1] for i in range(len(NET_NODES))]
dia = [3 + 0.5 * m for m in NET_MEMBERS]
cv.scatter(xs, ys, s=[(d * 0.72) ** 2 for d in dia], c=[TYPE_COL[t] for t in NET_TYPES],
           edgecolors='white', linewidths=0.3, zorder=3)
for i, name in enumerate(NET_NODES):
    cv.text(xs[i] + LABEL_DX.get(i, 0), ys[i], name, fontsize=4.7, ha='center', va='center',
            color='#2e2e2e', zorder=4)

# ----------------------- panel b -----------------------
cv.text(284, 43, 'b', fontsize=7.5, weight='bold', va='center', color='#111')
B_CX = [331, 432, 534, 635]
B_CY = [101, 206]
for k, name in enumerate(B_NAMES):
    cx, cy = B_CX[k % 4], B_CY[k // 4]
    cv.text(cx + 1, cy - 51, name, fontsize=5.4, ha='center', va='center', color=TXT)
    for i, j, r in NET_EDGES:
        cv.add_patch(FancyArrowPatch(net_xy(i, cx, cy, 0.41), net_xy(j, cx, cy, 0.41), arrowstyle='-',
                                     connectionstyle='arc3,rad=0.2', lw=0.25, color='#c5cbdc', alpha=0.55,
                                     shrinkA=0, shrinkB=0, zorder=2))
    for i, j, d in B_DELTAS[k]:
        cv.add_patch(FancyArrowPatch(net_xy(i, cx, cy, 0.41), net_xy(j, cx, cy, 0.41), arrowstyle='-',
                                     connectionstyle='arc3,rad=0.2', lw=0.3 + 2.0 * abs(d),
                                     color=EDGE_RED if d > 0 else EDGE_BLUE, alpha=0.75,
                                     shrinkA=0, shrinkB=0, zorder=2))
    bx = [net_xy(i, cx, cy, 0.41)[0] for i in range(len(NET_NODES))]
    by = [net_xy(i, cx, cy, 0.41)[1] for i in range(len(NET_NODES))]
    cv.scatter(bx, by, s=[(1.2 + 0.1 * m) ** 2 * 0.5 for m in NET_MEMBERS],
               c=[TYPE_COL[t] for t in NET_TYPES], edgecolors='none', zorder=3)
    for i, nm in enumerate(NET_NODES):
        cv.text(bx[i] + 0.41 * LABEL_DX.get(i, 0), by[i], nm, fontsize=2.2, ha='center', va='center',
                color='#444', zorder=4)


def grad_legend(x0, x1, y0, y1, poly):
    clip = Polygon(poly, closed=True, fc='none', ec='none')
    cv.add_patch(clip)
    n = 40
    dy = (y1 - y0) / n
    for q in range(n):
        rr = Rectangle((x0, y0 + q * dy), x1 - x0, dy * 1.1, fc=GRAD(1 - q / (n - 1)), ec='none', zorder=3)
        cv.add_patch(rr)
        rr.set_clip_path(clip)


cv.text(265, 168, 'Spearman\ncoefficient', fontsize=2.8, ha='center', va='center', color='#555', linespacing=1.0)
grad_legend(257, 273, 177, 229, [(257, 177), (273, 177), (259, 204), (268, 229), (257, 229)])
cv.text(259, 234, '−0.5', fontsize=2.5, ha='center', va='center', color='#555')
cv.text(271, 234, '0.5', fontsize=2.5, ha='center', va='center', color='#555')
cv.text(690, 131, 'Coefficient\ndelta', fontsize=2.8, ha='center', va='center', color='#555', linespacing=1.0)
grad_legend(683, 697, 137, 172, [(690, 137), (697, 137), (697, 150), (686, 160), (683, 172), (697, 172), (691, 160)])
for xx, lb in zip([683, 690, 697], ['−0.4', '0', '0.4']):
    cv.text(xx, 176, lb, fontsize=2.4, ha='center', va='center', color='#555')

# ----------------------- panel c -----------------------
cv.text(27, 258, 'c', fontsize=7.5, weight='bold', va='center', color='#111')
cv.text(135, 263.5, 'Target microbial pathway\nfold change', fontsize=5.2, ha='center', va='center',
        color=TXT, linespacing=1.2)
cv.text(303, 261, 'Microbe-host interaction', fontsize=5.6, ha='center', va='center', color=TXT)
cv.text(477, 261, 'ALL', fontsize=5.4, ha='center', va='center', color=TXT)
cv.text(628, 263.5, 'Contribution to\ndisease symptoms', fontsize=5.4, ha='center', va='center',
        color=TXT, linespacing=1.2)


def row_positions(y_first, h, g, sizes):
    out, y = [], y_first
    for n in sizes:
        for _ in range(n):
            out.append(y)
            y += h
        y += g
    return out


GENE_X = [150.5, 157.5, 164.5, 175.5, 183.5]


def star_color(v):
    if v > 0.2:
        return '#9b1b1b'
    if v < -0.2:
        return '#1d2a6b'
    return '#555555'


def gene_section(rows, subs, title, y_first, h, g):
    sizes = [n for _, n in subs]
    yy = row_positions(y_first, h, g, sizes)
    i0 = 0
    for gi, (lab, n) in enumerate(subs):
        top = yy[i0] - h / 2 - g / 2 + 0.5
        bot = yy[i0 + n - 1] + h / 2 + g / 2 - 0.5
        cv.add_patch(Rectangle((138, top), 5.5, bot - top, fc=PAL[MIC_KEYS[gi]], lw=0, zorder=2))
        cv.add_patch(Rectangle((146, top + 0.3), 23, bot - top - 0.6, fc='white', ec='#9c9c9c', lw=0.6, zorder=2))
        lines = lab.split('\n')
        yc = (top + bot) / 2
        for li, ln in enumerate(lines):
            cv.text(134.5, yc + (li - (len(lines) - 1) / 2) * 8.8, ln, ha='right', va='center',
                    fontsize=4.7, color=TXT)
        i0 += n
    px, py, ps, pc = [], [], [], []
    for (gene, vals, sig), y in zip(rows, yy):
        for c, v in enumerate(vals):
            d = 2.0 + 7.5 * abs(v)
            px.append(GENE_X[c]); py.append(y); ps.append((d * 0.72) ** 2)
            pc.append(FC_CMAP((np.clip(v, -1, 1) + 1) / 2))
        for c in range(3):
            if sig[c]:
                cv.text(GENE_X[c], y + 1.3, '*' * sig[c], ha='center', va='center', fontsize=3.2,
                        color=star_color(vals[c]), zorder=5)
        if sig[3]:
            cv.text(189.5, y + 1.3, '*' * sig[3], ha='right', va='center', fontsize=3.8,
                    color=star_color(vals[4]), zorder=5)
        cv.text(190.5, y, gene, ha='left', va='center', fontsize=4.7, color=TXT, zorder=5)
    cv.scatter(px, py, s=ps, c=pc, edgecolors='#d2d2d2', linewidths=0.25, zorder=4)
    cv.text(57, (yy[0] + yy[-1]) / 2, title, rotation=90, ha='center', va='center', fontsize=5.8,
            color=TXT, linespacing=1.15, multialignment='center')


HOST_X = [472.5, 478.5, 484.5]


def host_section(rows, cats, y_first, h, g):
    sizes = [sum(1 for r in rows if r[1] == k) for k in range(len(cats))]
    yy = row_positions(y_first, h, g, sizes)
    i0 = 0
    for k, n in enumerate(sizes):
        top = yy[i0] - h / 2 - g / 2 + 0.4
        bot = yy[i0 + n - 1] + h / 2 + g / 2 - 0.4
        cv.add_patch(Rectangle((468, top), 20, bot - top, fc='white', ec='#9c9c9c', lw=0.6, zorder=2))
        cv.add_patch(Rectangle((489.5, top - 0.3), 5, bot - top + 0.6, fc=PAL[HOST_KEYS[k]], lw=0, zorder=2))
        cv.text(497, (top + bot) / 2, cats[k], ha='left', va='center', fontsize=5.4, color=TXT, linespacing=1.0)
        i0 += n
    px, py, ps, pc = [], [], [], []
    for (lab, k, vals, st), y in zip(rows, yy):
        cv.text(466, y, lab, ha='right', va='center', fontsize=3.3, color='#444')
        for c, v in enumerate(vals):
            d = 3.5 + 5.0 * abs(v)
            px.append(HOST_X[c]); py.append(y); ps.append((d * 0.72) ** 2)
            pc.append(FC_CMAP((np.clip(v, -1, 1) + 1) / 2))
        if st:
            cv.text(478.5, y + 1.0, st, ha='center', va='center', fontsize=3.0, color='#333', zorder=5)
    cv.scatter(px, py, s=ps, c=pc, edgecolors='#cfcfcf', linewidths=0.3, zorder=4)


def sankey(xl, xr, y0, y1, M, src_keys, tgt_keys):
    M = np.asarray(M, float)
    A = np.abs(M)
    sc = (y1 - y0) / A.sum()
    st, tt_ = A.sum(1), A.sum(0)
    so = y0 + np.r_[0, np.cumsum(st)[:-1]] * sc
    to = y0 + np.r_[0, np.cumsum(tt_)[:-1]] * sc
    bw = 4.5
    xa, xb = xl + bw, xr - bw
    xm = (xa + xb) / 2
    soff, toff = so.copy(), to.copy()
    strand = 0
    for i in range(M.shape[0]):
        for j in range(M.shape[1]):
            w = M[i, j]
            if w == 0:
                continue
            t = abs(w) * sc
            a0, b0 = soff[i], toff[j]
            soff[i] += t
            toff[j] += t
            kk = max(1, int(round(t / 1.2)))
            col = SK_POS if w > 0 else SK_NEG
            for m in range(kk):
                a = a0 + (m + 0.5) * t / kk
                b = b0 + (m + 0.5) * t / kk
                p = Path([(xa, a), (xm, a), (xm, b), (xb, b)],
                         [Path.MOVETO, Path.CURVE4, Path.CURVE4, Path.CURVE4])
                al = min(0.85, SK_ALPHA[strand % len(SK_ALPHA)] * (0.7 + 0.15 * abs(w)))
                cv.add_patch(PathPatch(p, fill=False, ec=col, lw=t / kk * 0.72 * 1.05,
                                       alpha=al, capstyle='butt', zorder=2))
                strand += 1
    for i in range(len(st)):
        cv.add_patch(Rectangle((xl, so[i]), bw, st[i] * sc, fc=PAL[src_keys[i]], lw=0, zorder=3))
    for j in range(len(tt_)):
        cv.add_patch(Rectangle((xr - bw, to[j]), bw, tt_[j] * sc, fc=PAL[tgt_keys[j]], lw=0, zorder=3))


SK_X = {'Healthy': (227, 273), 'Short': (280, 327), 'Long': (333, 380)}


def sankeys(SK, y0, y1):
    for key, (xl, xr) in SK_X.items():
        M = SK[key]
        sankey(xl, xr, y0, y1, M, MIC_KEYS[:len(M)], HOST_KEYS[:len(M[0])])


def bar_chart(neg, pos, x0, x1, y_first, y_last, y_axis, k, ticks, tlabels, bh, notes):
    n = len(neg)
    s = (y_last - y_first) / (n - 1)
    top = y_first - 8
    ax = px_axes(x0, top, x1, y_axis)
    ax.patch.set_alpha(0)
    ax.set_xlim((x0 - 633) / k, (x1 - 633) / k)
    ax.set_ylim((y_axis - y_first) / s, (top - y_first) / s)
    for i in range(n):
        c = 0.0
        for key, v in neg[i]:
            ax.barh(i, -v * 1e-4, left=-c * 1e-4, height=bh, color=PAL[key], edgecolor='white', linewidth=0.15)
            c += v
        c = 0.0
        for key, v in pos[i]:
            ax.barh(i, v * 1e-4, left=c * 1e-4, height=bh, color=PAL[key], edgecolor='white', linewidth=0.15)
            c += v
    ax.axvline(0, color='#151515', lw=1.4, zorder=5)
    for sp in ['top', 'right', 'left']:
        ax.spines[sp].set_visible(False)
    ax.spines['bottom'].set_color('#9a9a9a')
    ax.spines['bottom'].set_linewidth(0.8)
    ax.set_yticks([])
    ax.set_xticks(ticks)
    ax.set_xticklabels(tlabels, fontsize=3.9, color='#555')
    ax.tick_params(axis='x', length=0, pad=2.5)
    for txt, xv, yi in notes:
        ax.text(xv, yi, txt, fontsize=6, color='#2b2b2b', va='center', ha='left', zorder=6, linespacing=0.95)


T5 = [-0.005, -0.0025, 0, 0.0025, 0.005]
T5L = ['−0.0050', '−0.0025', '0', '0.0025', '0.0050']

# --- Tryptophan
gene_section(TRP_GENES, TRP_SUB, 'Tryptophan\nmetabolism', 282, 9.5, 3)
sankeys(SK_TRP, 280, 386)
host_section(TRP_HOST, TRP_CATS, 278, 8.6, 1.5)
bar_chart(TRP_NEG, TRP_POS, 565, 703, 288, 383, 392, 12000, T5, T5L, 0.78,
          [('Gastrointestinal', -0.0062, 11), ('Sleeping\nproblem', 0.0004, 9.6)])
# --- Butyrate
gene_section(BUT_GENES, BUT_SUB, 'Butyrate biosynthesis', 403, 9.2, 1.5)
sankeys(SK_BUT, 412, 550)
host_section(BUT_HOST, BUT_CATS, 402, 6.0, 1.33)
bar_chart(BUT_NEG, BUT_POS, 558, 707, 415, 542, 553, 12000, T5, T5L, 0.72,
          [('Emotional\nproblems', 0.002, 2.0), ('General\nhealth', -0.0052, 7.0)])
# --- BCAA
gene_section(BCA_GENES, BCA_SUB, 'Branched-chain amino\nacids biosynthesis', 575, 7.5, 1.67)
sankeys(SK_BCA, 568, 708)
host_section(BCA_HOST, BCA_CATS, 569, 6.5, 2.0)
bar_chart(BCA_NEG, BCA_POS, 557, 708, 583, 699, 709, 9740, [-0.005, 0, 0.005], ['−0.005', '0', '0.005'], 0.7,
          [('Fatigue', -0.0039, 3), ('Emotional\nwellbeing', 0.0003, 4.1)])
# --- Benzoate
gene_section(BEN_GENES, BEN_SUB, 'Benzoate metabolism', 729, 7.4, 1.0)
sankeys(SK_BEN, 722, 850)
host_section(BEN_HOST, BEN_CATS, 726, 8.4, 0.9)
bar_chart(BEN_NEG, BEN_POS, 554, 712, 732, 845, 855, 12000, T5, T5L, 0.7,
          [('Fatigue', -0.0032, 3), ('Social\nfunctioning', 0.0004, 5.1)])

for xx, lb in zip([141, 150.5, 157.5, 164.5, 175.5, 183.5],
                  ['Module', 'Patient', 'Short', 'Long', 'Guo', 'Raijmakers']):
    cv.text(xx + 2, 851, lb, rotation=45, ha='right', va='top', rotation_mode='anchor', fontsize=4.2, color=TXT)
for xx, lb in zip([250, 303.5, 356.5], ['Healthy', 'Short', 'Long']):
    cv.text(xx, 861, lb, ha='center', va='center', fontsize=6, color=TXT)
for xx, lb in zip([472.5, 478.5, 484.5, 491.5], ['Patient', 'Short', 'Long', 'Module']):
    cv.text(xx + 2, 853, lb, rotation=45, ha='right', va='top', rotation_mode='anchor', fontsize=4.0, color=TXT)

# ----------------------- caption -----------------------
TOK = re.compile(r'(LS\{[^}]*\}|B\{[^}]*\}|I\{[^}]*\}|S\{[^}]*\}|L\{[^}]*\})')


def parse(line):
    out = []
    for part in TOK.split(line):
        if not part:
            continue
        m = re.match(r'^(LS|B|I|S|L)\{(.*)\}$', part)
        out.append((m.group(1), m.group(2)) if m else ('N', part))
    return out


def seg_style(kind, fs):
    kw = dict(family='Liberation Serif', fontsize=fs, color='#231f20')
    rise = 0.0
    if kind == 'B':
        kw['weight'] = 'bold'
    if kind == 'I':
        kw['style'] = 'italic'
    if kind in ('S', 'LS'):
        kw['fontsize'] = fs * 0.62
        rise = fs / 0.72 * 0.36
    if kind in ('L', 'LS'):
        kw['color'] = '#2a5ea8'
    return kw, rise


def layout_line(segs, fs, x0, y, draw=True):
    x = x0
    for kind, s in segs:
        kw, rise = seg_style(kind, fs)
        w = text_w(s, **kw)
        if draw:
            t = cv.text(x, y - rise, s, va='baseline', ha='left', **kw)
            t.set_path_effects([pe.withStroke(linewidth=0.35, foreground=kw['color'])])
            if kind in ('L', 'LS'):
                cv.plot([x, x + w], [y + 1.8 - rise, y + 1.8 - rise], color=kw['color'], lw=0.6)
        x += w
    return x - x0


w12 = layout_line(parse(CAPTION[0]), 12, 0, 0, draw=False)
FS = 12 * 701 / w12
for li, line in enumerate(CAPTION):
    layout_line(parse(line), FS, 7, 913 + li * 28.15)

fig.savefig('out.png', dpi=100)
